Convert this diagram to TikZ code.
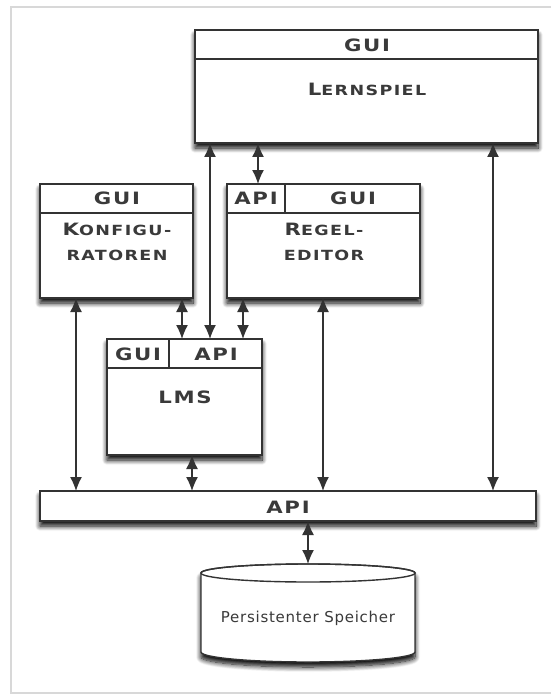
\documentclass[tikz,border=0pt]{standalone}
\usepackage{fontspec}
\setmainfont{DejaVu Sans}
\newfontfamily\capsfont{DejaVu Sans}[LetterSpace=10, FakeStretch=1.25]
\newfontfamily\plainfont{DejaVu Sans}[LetterSpace=5]
\usetikzlibrary{arrows.meta,shadows.blur}

\definecolor{ink}{HTML}{333333}
\definecolor{txt}{HTML}{3A3A3A}
\definecolor{frame}{HTML}{D8D8D8}

% large initial followed by smaller capitals
\newcommand\capword[2]{{\fontsize{17}{20}\selectfont #1}{\fontsize{14}{20}\selectfont #2}}

\begin{document}
\begin{tikzpicture}[x=1pt,y=-1pt,
  softshadow/.style={blur shadow={shadow xshift=0pt, shadow yshift=-5pt,
      shadow blur radius=5pt, shadow blur steps=10, shadow opacity=100}},
  box/.style={draw=ink, line width=1.4pt, fill=white, anchor=north west,
    inner sep=0pt, outer sep=0pt, softshadow},
  lbl/.style={font=\capsfont\bfseries\fontsize{17}{20}\selectfont,
    text=txt, inner sep=0pt},
  body/.style={font=\capsfont\bfseries\fontsize{14}{25}\selectfont,
    text=txt, inner sep=0pt, align=center},
  divider/.style={draw=ink, line width=1.2pt},
  bi/.style={draw=ink, line width=1.3pt,
    arrows={Latex[length=14pt,width=12pt]-Latex[length=14pt,width=12pt]}}
]
\useasboundingbox (0,0) rectangle (551,695);

% page frame
\draw[frame, line width=1.5pt] (551,7) -- (11,7) -- (11,693) -- (551,693);

% components
\node[box, minimum width=343pt, minimum height=113pt] (lern)  at (195,30)  {};
\node[box, minimum width=153pt, minimum height=114pt] (konf)  at (40,184)  {};
\node[box, minimum width=193pt, minimum height=114pt] (regel) at (227,184) {};
\node[box, minimum width=155pt, minimum height=116pt] (lms)   at (107,339) {};
\node[box, minimum width=496pt, minimum height=30pt]  (api)   at (40,491)  {};

% header rows
\draw[divider] ([yshift=-29pt]lern.north west)  -- ([yshift=-29pt]lern.north east);
\draw[divider] ([yshift=-29pt]konf.north west)  -- ([yshift=-29pt]konf.north east);
\draw[divider] ([yshift=-29pt]regel.north west) -- ([yshift=-29pt]regel.north east);
\draw[divider] ([xshift=58pt]regel.north west)  -- ++(0,29);
\draw[divider] ([yshift=-29pt]lms.north west)   -- ([yshift=-29pt]lms.north east);
\draw[divider] ([xshift=62pt]lms.north west)    -- ++(0,29);

% persistent storage (cylinder)
\path[draw=ink, line width=1.4pt, fill=white, softshadow]
  (201,573) -- (201,652)
  arc[start angle=180, end angle=0, x radius=107, y radius=10]
  -- (415,573)
  arc[start angle=0, end angle=-180, x radius=107, y radius=9] -- cycle;
\draw[ink, line width=1.4pt] (308,573) ellipse[x radius=107, y radius=9];
\coordinate (storetop) at (308,564);

% labels
\node[lbl] (lerngui) at (367,45) {GUI};
\node[body] (lernname) at (367,89) {\capword{L}{ERNSPIEL}};

\node[lbl] (konfgui) at (117,198) {GUI};
\node[body] (konfname) at (117,242) {\capword{K}{ONFIGU-}\\RATOREN};

\node[lbl] (regelapi) at (256,198) {API};
\node[lbl] (regelgui) at (353,198) {GUI};
\node[body] (regelname) at (324,242) {\capword{R}{EGEL-}\\EDITOR};

\node[lbl] (lmsgui) at (138,354) {GUI};
\node[lbl] (lmsapi) at (216,354) {API};
\node[lbl] (lmsname) at (185,397) {LMS};

\node[lbl] (apiname) at (288,507) {API};

\node[font=\plainfont\fontsize{15}{17}\selectfont, text=txt, inner sep=0pt]
  (store) at (308,618) {Persistenter Speicher};

% connector positions
\coordinate (p1) at (258,184);
\coordinate (p2) at (210,339);
\coordinate (p3) at (182,339);
\coordinate (p4) at (243,339);
\coordinate (p5) at (76,491);
\coordinate (p6) at (192,491);
\coordinate (p7) at (323,491);
\coordinate (p8) at (493,491);

% connectors
\draw[bi] (p1) -- (p1 |- lern.south);
\draw[bi] (p2) -- (p2 |- lern.south);
\draw[bi] (p3) -- (p3 |- konf.south);
\draw[bi] (p4) -- (p4 |- regel.south);
\draw[bi] (p5) -- (p5 |- konf.south);
\draw[bi] (p6) -- (p6 |- lms.south);
\draw[bi] (p7) -- (p7 |- regel.south);
\draw[bi] (p8) -- (p8 |- lern.south);
\draw[bi] (storetop) -- (storetop |- api.south);
\end{tikzpicture}
\end{document}
